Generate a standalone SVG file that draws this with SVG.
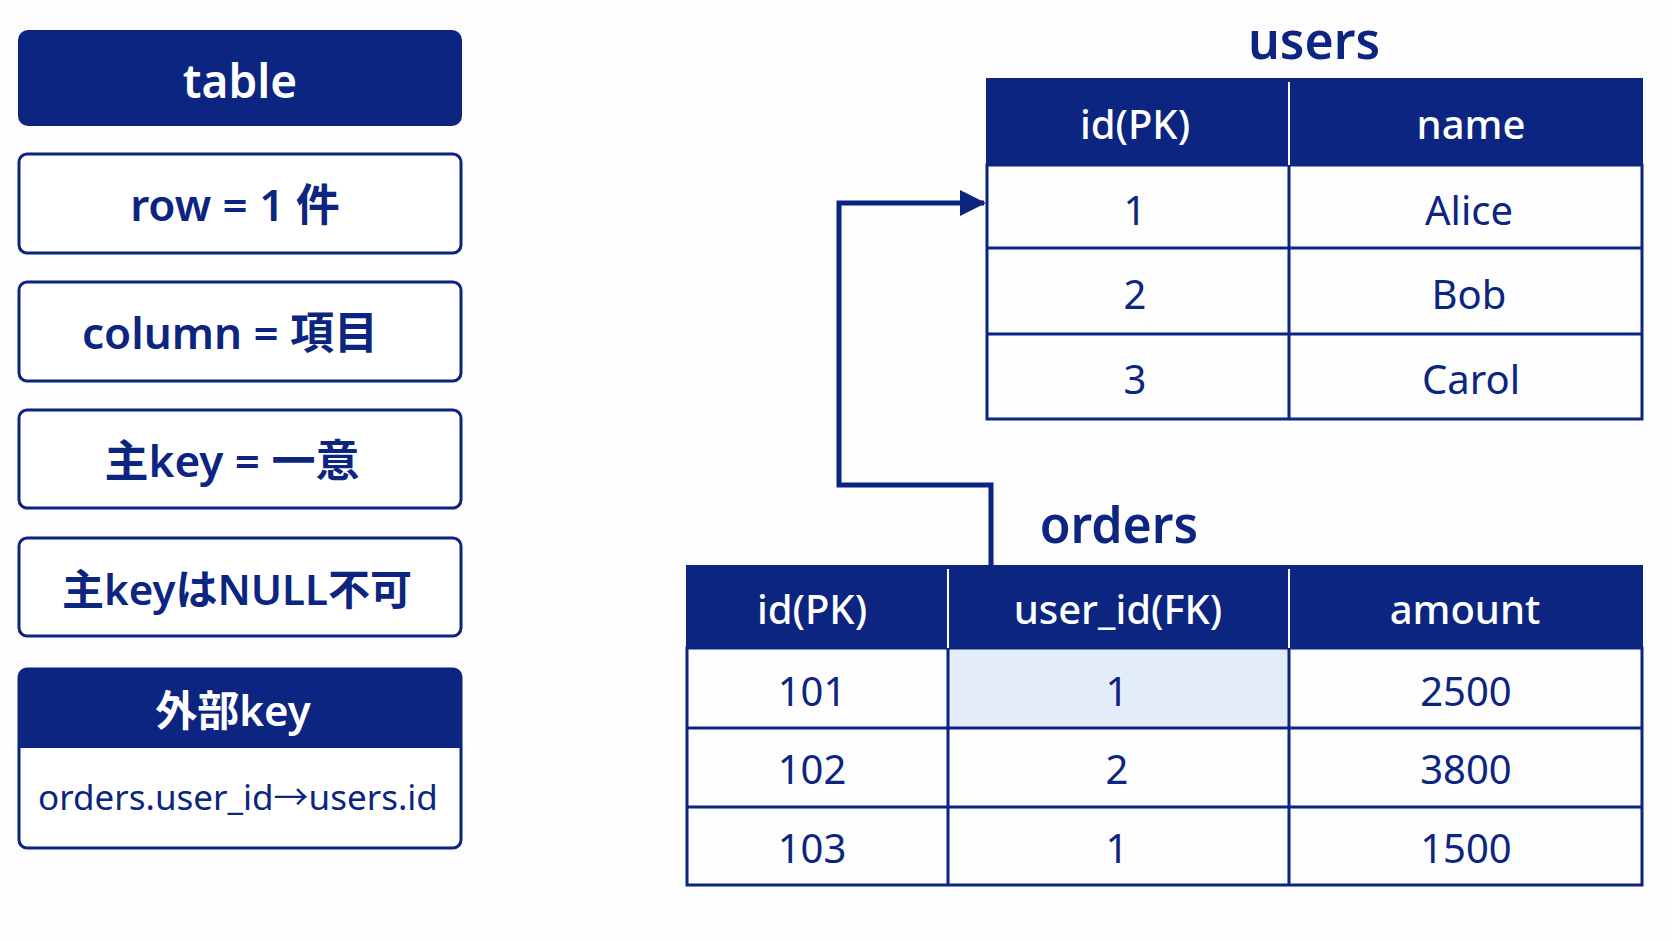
<svg xmlns="http://www.w3.org/2000/svg" width="1672" height="941" viewBox="0 0 1672 941">
<style>
.t{font-family:"Noto Sans","Noto Sans CJK JP",sans-serif;fill:#0b2580;text-anchor:middle;dominant-baseline:central}
.w{fill:#fff}
.box{fill:#fff;stroke:#0b2580;stroke-width:3}
.hd{fill:#0b2580}
.ln{stroke:#0b2580;stroke-width:3;fill:none}
</style>
<defs><marker id="ah" markerWidth="26" markerHeight="26" refX="24" refY="13" orient="auto" markerUnits="userSpaceOnUse" viewBox="0 0 26 26"><path d="M0,0L26,13L0,26z" fill="#0b2580"/></marker></defs>
<rect width="1672" height="941" fill="#fdfdfe"/>
<g id="legend-table"><rect x="18" y="30" width="444" height="96" rx="10" class="hd"/><text x="240" y="80" class="t w" font-size="46" font-weight="600">table</text></g>
<g id="legend-row"><rect x="19" y="154" width="442" height="99" rx="8" class="box"/><text x="235" y="204" class="t" font-size="44" font-weight="600">row = 1 件</text></g>
<g id="legend-column"><rect x="19" y="282" width="442" height="99" rx="8" class="box"/><text x="230" y="332" class="t" font-size="44" font-weight="600">column = 項目</text></g>
<g id="legend-pk"><rect x="19" y="410" width="442" height="98" rx="8" class="box"/><text x="232" y="460" class="t" font-size="44" font-weight="600">主key = 一意</text></g>
<g id="legend-null"><rect x="19" y="538" width="442" height="98" rx="8" class="box"/><text x="237" y="588" class="t" font-size="42" font-weight="600">主keyはNULL不可</text></g>
<g id="legend-fk"><rect x="19" y="669" width="442" height="179" rx="8" class="box"/><path d="M19,748V677a8,8 0 0 1 8,-8H453a8,8 0 0 1 8,8V748z" class="hd"/><text x="233" y="709" class="t w" font-size="42" font-weight="600">外部key</text><text x="238" y="796" class="t" font-size="35">orders.user_id→users.id</text></g>
<g id="users">
<text x="1314" y="40" class="t" font-size="50" font-weight="600">users</text>
<rect x="986" y="78" width="657" height="87" class="hd"/>
<rect x="987" y="165" width="655" height="254" fill="#fff" class="ln"/>
<path d="M987,248H1642M987,334H1642M1289,165V419" class="ln"/>
<line x1="1289" y1="82" x2="1289" y2="165" stroke="#fff" stroke-width="2"/>
<g class="t" font-size="40">
<text x="1135" y="123" class="t w" font-weight="500">id(PK)</text><text x="1471" y="123" class="t w" font-weight="500">name</text>
<text x="1135" y="209">1</text><text x="1469" y="209">Alice</text>
<text x="1135" y="293">2</text><text x="1469" y="293">Bob</text>
<text x="1135" y="378">3</text><text x="1471" y="378">Carol</text></g>
</g>
<g id="orders">
<text x="1119" y="524" class="t" font-size="50" font-weight="600">orders</text>
<rect x="686" y="565" width="957" height="83" class="hd"/>
<rect x="948" y="648" width="341" height="80" fill="#e3edf9"/>
<rect x="687" y="648" width="955" height="237" fill="none" class="ln"/>
<path d="M687,728H1642M687,807H1642M948,648V885M1289,648V885" class="ln"/>
<path d="M948,569V648M1289,569V648" stroke="#fff" stroke-width="2"/>
<g class="t" font-size="40">
<text x="812" y="608" class="t w" font-weight="500">id(PK)</text><text x="1118" y="608" class="t w" font-weight="500">user_id(FK)</text><text x="1465" y="608" class="t w" font-weight="500">amount</text>
<text x="812" y="690">101</text><text x="1117" y="690">1</text><text x="1466" y="690">2500</text>
<text x="812" y="768">102</text><text x="1117" y="768">2</text><text x="1466" y="768">3800</text>
<text x="812" y="847">103</text><text x="1117" y="847">1</text><text x="1466" y="847">1500</text></g>
</g>
<g id="connectors"><path d="M991,565V485H839V203H984" fill="none" stroke="#0b2580" stroke-width="5" marker-end="url(#ah)"/></g>
</svg>
